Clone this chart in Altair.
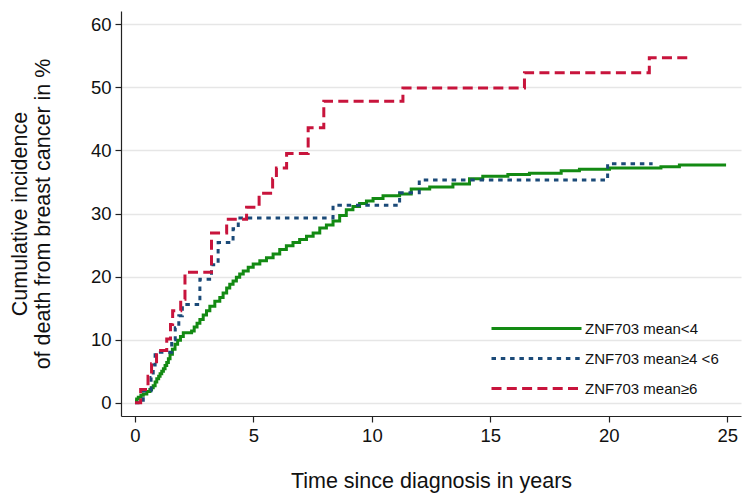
import altair as alt
import pandas as pd

groups = ["ZNF703 mean<4", "ZNF703 mean\u22654 <6", "ZNF703 mean\u22656"]
colors = ["#138a13", "#1b4a78", "#c8143c"]
dashes = [[1, 0], [4.5, 4.8], [10, 5.3]]

green_t = [0.00, 0.07, 0.14, 0.25, 0.35, 0.50, 0.63, 0.70, 0.77, 0.85, 0.92, 1.00, 1.06, 1.13,
           1.20, 1.27, 1.34, 1.41, 1.48, 1.58, 1.69, 1.80, 1.92, 2.04, 2.39, 2.50, 2.62, 2.74,
           2.88, 3.02, 3.16, 3.37, 3.58, 3.72, 3.87, 4.00, 4.14, 4.28, 4.42, 4.57, 4.78, 4.99,
           5.27, 5.55, 5.83, 6.11, 6.39, 6.67, 6.95, 7.24, 7.52, 7.80, 8.08, 8.36, 8.64, 8.92,
           9.20, 9.48, 9.77, 10.05, 10.47, 11.17, 11.66, 12.44, 13.42, 14.12, 14.68, 15.74,
           16.65, 17.99, 18.76, 20.03, 22.20, 22.98, 24.95]
green_y = [0.3, 0.6, 0.9, 1.2, 1.4, 1.8, 2.1, 2.4, 2.7, 3.3, 3.8, 4.2, 4.6, 5.0,
           5.4, 5.9, 6.4, 7.0, 7.7, 8.5, 9.3, 9.9, 10.5, 11.1, 11.4, 12.0, 12.6, 13.2,
           13.9, 14.6, 15.3, 16.1, 16.7, 17.4, 18.2, 18.8, 19.3, 19.9, 20.4, 20.9, 21.5, 22.0,
           22.5, 23.0, 23.6, 24.3, 24.9, 25.4, 25.9, 26.4, 26.9, 27.7, 28.2, 28.8, 29.7, 30.6,
           31.1, 31.6, 32.0, 32.4, 32.8, 33.1, 33.9, 34.2, 34.7, 35.5, 35.9, 36.2,
           36.4, 36.8, 37.0, 37.2, 37.4, 37.7, 37.7]

blue_t = [0.00, 0.35, 0.68, 0.77, 0.85, 1.55, 1.70, 1.85, 2.00, 2.74, 3.23, 3.51, 4.14, 4.36,
          8.36, 11.17, 12.00, 19.95, 21.85]
blue_y = [0.0, 1.9, 4.0, 6.0, 8.0, 10.0, 11.9, 13.8, 15.6, 19.6, 21.9, 25.4, 27.6, 29.3,
          31.3, 33.3, 35.3, 37.9, 37.9]

red_t = [0.00, 0.24, 0.55, 0.70, 0.91, 1.34, 1.50, 1.59, 1.93, 2.11, 3.23, 3.87, 4.71, 5.24,
         5.81, 5.97, 6.40, 7.31, 7.97, 11.31, 16.44, 21.71, 23.40]
red_y = [0.0, 2.1, 4.2, 6.2, 8.3, 10.1, 12.4, 14.6, 16.4, 20.7, 26.9, 29.1, 31.0, 33.2,
         35.5, 37.2, 39.5, 43.6, 47.8, 49.9, 52.3, 54.7, 54.7]

x_ticks = [0, 5, 10, 15, 20, 25]
y_ticks = [0, 10, 20, 30, 40, 50, 60]

rows = []
for g, ts, ys in [(groups[0], green_t, green_y), (groups[1], blue_t, blue_y), (groups[2], red_t, red_y)]:
    for i, (t, y) in enumerate(zip(ts, ys)):
        rows.append({"group": g, "t": t, "y": y, "order": i})
df = pd.DataFrame(rows)

FONT = "Liberation Sans"

leg = alt.Legend(
    title=None, orient="none", legendX=408, legendY=310,
    symbolType="M-9,0H9", symbolSize=100, symbolStrokeWidth=3,
    labelFont=FONT, labelFontSize=15, labelColor="#111111", labelOffset=41,
    rowPadding=14, padding=0,
)

chart = alt.Chart(df).mark_line(interpolate="step-after", strokeWidth=3).encode(
    x=alt.X("t:Q", scale=alt.Scale(domain=[-0.59, 25.58], nice=False, zero=False),
            axis=alt.Axis(values=x_ticks, title="Time since diagnosis in years", grid=False,
                          titlePadding=26, labelPadding=4)),
    y=alt.Y("y:Q", scale=alt.Scale(domain=[-2.09, 62.1], nice=False, zero=False),
            axis=alt.Axis(values=y_ticks, title=["Cumulative incidence", "of death from breast cancer in %"],
                          grid=True, titlePadding=36, labelPadding=4, titleLineHeight=23)),
    color=alt.Color("group:N", scale=alt.Scale(domain=groups, range=colors), legend=leg),
    strokeDash=alt.StrokeDash("group:N", scale=alt.Scale(domain=groups, range=dashes), legend=leg),
    order="order:Q",
    detail="group:N",
).properties(
    width=620, height=405,
    padding={"left": 121, "top": 11, "right": 7, "bottom": 78},
    autosize=alt.AutoSizeParams(type="none"),
    background="white",
).configure_view(
    stroke=None
).configure_axis(
    labelFont=FONT, titleFont=FONT, labelFontSize=18.5, titleFontSize=21.5,
    titleFontWeight="normal", labelColor="#111111", titleColor="#111111",
    domainColor="#222222", domainWidth=1.2, tickColor="#222222", tickWidth=1.2, tickSize=6,
    gridColor="#e6e6e6", gridWidth=1.5,
)

chart.save("out.html", embed_options={"renderer": "svg", "actions": False})
